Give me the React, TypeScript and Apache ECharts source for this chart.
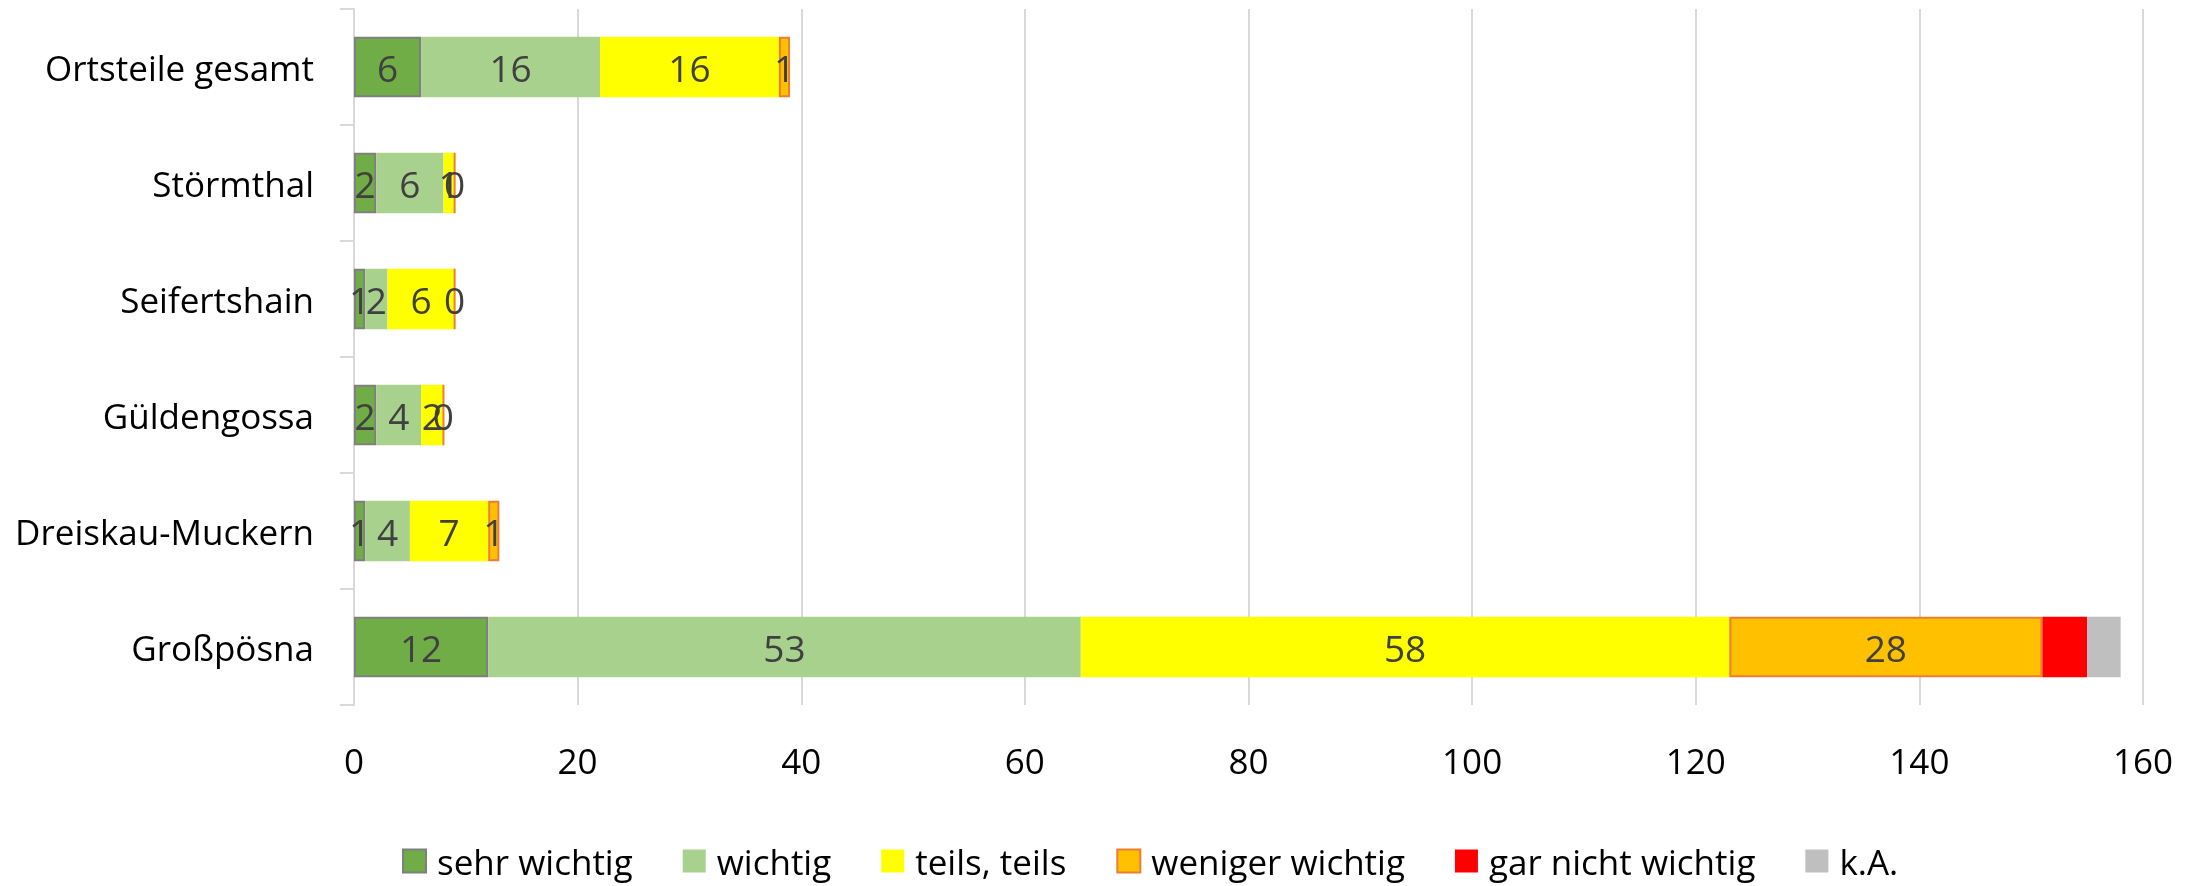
import React, { useEffect, useRef } from "react";
import * as echarts from "echarts";

const categories = ["Großpösna", "Dreiskau-Muckern", "Güldengossa", "Seifertshain", "Störmthal", "Ortsteile gesamt"];
const seriesNames = ["sehr wichtig", "wichtig", "teils, teils", "weniger wichtig", "gar nicht wichtig", "k.A."];
const sehrWichtig = [12, 1, 2, 1, 2, 6];
const wichtig = [53, 4, 4, 2, 6, 16];
const teilsTeils = [58, 7, 2, 6, 1, 16];
const wenigerWichtig = [28, 1, 0, 0, 0, 1];
const garNichtWichtig = [4, 0, 0, 0, 0, 0];
const keineAngabe = [3, 0, 0, 0, 0, 0];
const xTicks = [0, 20, 40, 60, 80, 100, 120, 140, 160];

const FONT = "'Open Sans', 'Noto Sans', sans-serif";

export default function App() {
  const ref = useRef<HTMLDivElement>(null);
  useEffect(() => {
    if (!ref.current) return;
    const chart = echarts.init(ref.current, undefined, { renderer: "svg" });
    const values = [sehrWichtig, wichtig, teilsTeils, wenigerWichtig, garNichtWichtig, keineAngabe];
    const fills = ["#70AD47", "#A9D18E", "#FFFF00", "#FFC000", "#FF0000", "#BFBFBF"];
    const borders = ["#7F7F7F", null, null, "#ED7D31", null, null];
    const showLabel = [true, true, true, true, false, false];
    const series = seriesNames.map((name, i) => ({
      name,
      type: "bar",
      stack: "total",
      barCategoryGap: "48%",
      data: values[i],
      itemStyle: {
        color: fills[i],
        borderColor: borders[i] || fills[i],
        borderWidth: borders[i] ? 2 : 0,
      },
      label: {
        show: showLabel[i],
        position: "inside",
        color: "#404040",
        fontSize: 37,
        fontFamily: FONT,
        formatter: (p: any) => String(p.value),
      },
      emphasis: { disabled: true },
    }));
    chart.setOption({
      animation: false,
      textStyle: { fontFamily: FONT },
      grid: { left: 354, right: 50, top: 9, bottom: 181, containLabel: false },
      legend: {
        top: 838,
        left: 397,
        itemWidth: 23,
        itemHeight: 23,
        itemGap: 50,
        icon: "rect",
        textStyle: { fontSize: 35, lineHeight: 36, color: "#000000", fontFamily: FONT, padding: [0, 0, 0, 6] },
        data: seriesNames,
      },
      xAxis: {
        type: "value",
        min: 0,
        max: 160,
        interval: 20,
        axisLine: { show: false },
        axisTick: { show: false },
        splitLine: { show: true, lineStyle: { color: "#D9D9D9", width: 2 } },
        axisLabel: {
          fontSize: 35,
          color: "#000000",
          fontFamily: FONT,
          margin: 38,
          formatter: (v: number) => (xTicks.includes(v) ? String(v) : ""),
        },
      },
      yAxis: {
        type: "category",
        data: categories,
        axisLine: { show: true, lineStyle: { color: "#D9D9D9", width: 2 } },
        axisTick: { show: true, length: 14, lineStyle: { color: "#D9D9D9", width: 2 } },
        axisLabel: { fontSize: 35, color: "#000000", fontFamily: FONT, margin: 40 },
      },
      series,
    });
    return () => chart.dispose();
  }, []);
  return <div ref={ref} style={{ position: "fixed", left: 0, top: 0, width: 2193, height: 886 }} />;
}
